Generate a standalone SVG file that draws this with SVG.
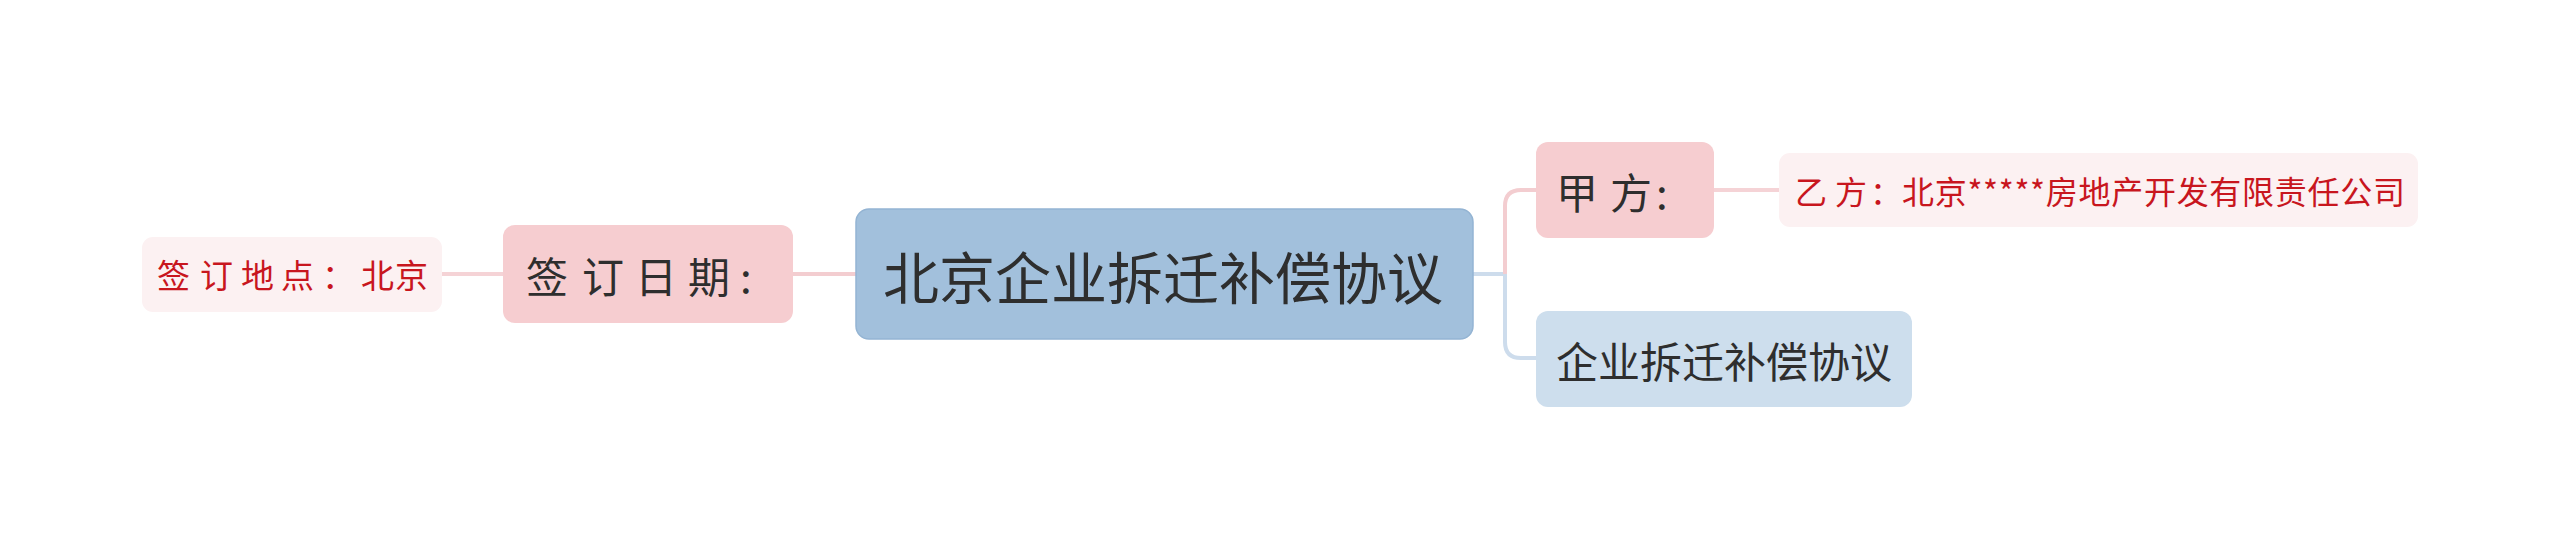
<svg xmlns="http://www.w3.org/2000/svg" width="2560" height="549" viewBox="0 0 2560 549">
<style>
text{font-family:"Noto Sans CJK SC","Noto Sans",sans-serif;dominant-baseline:central}
.dark{fill:#2e2e2e}
.red{fill:#c8161e}
.conn{fill:none;stroke-width:4;stroke-linecap:butt}
</style>
<rect width="2560" height="549" fill="#ffffff"/>
<g id="connectors">
<path class="conn" d="M441,274 H503" stroke="#f5d3d6"/>
<path class="conn" d="M793,274 H856" stroke="#f3cdd0"/>
<path class="conn" d="M1473,274 H1505" stroke="#cddcec"/>
<path class="conn" d="M1505,274 V206 Q1505,190 1521,190 H1536" stroke="#f3cdd0"/>
<path class="conn" d="M1505,274 V342 Q1505,358 1521,358 H1536" stroke="#cddcec"/>
<path class="conn" d="M1714,190 H1779" stroke="#f5d3d6"/>
</g>
<g id="node-root">
<rect x="856" y="209" width="617" height="130" rx="13" fill="#a2c0dc" stroke="#94b4d3" stroke-width="1.5"/>
<text x="883" y="274" font-size="56" class="dark">北京企业拆迁补偿协议</text>
</g>
<g id="node-date">
<rect x="503" y="225" width="290" height="98" rx="12" fill="#f6cdd0"/>
<text x="526 582 635 688 740" y="274" font-size="42" class="dark">签订日期:</text>
</g>
<g id="node-place">
<rect x="142" y="237" width="300" height="75" rx="11" fill="#fcf1f2"/>
<text x="157 200 241 281 322 361 395" y="274" font-size="33" class="red">签订地点：北京</text>
</g>
<g id="node-jiafang">
<rect x="1536" y="142" width="178" height="96" rx="12" fill="#f6cdd0"/>
<text x="1556 1610 1656" y="190" font-size="42" class="dark">甲方:</text>
</g>
<g id="node-yifang">
<rect x="1779" y="153" width="639" height="74" rx="11" fill="#fcf1f2"/>
<text y="190" font-size="32" class="red"><tspan x="1795">乙</tspan><tspan x="1835">方</tspan><tspan x="1870">：</tspan><tspan x="1902" textLength="503" lengthAdjust="spacing">北京*****房地产开发有限责任公司</tspan></text>
</g>
<g id="node-qiye">
<rect x="1536" y="311" width="376" height="96" rx="12" fill="#cddeed"/>
<text x="1556" y="359" font-size="42" class="dark">企业拆迁补偿协议</text>
</g>
</svg>
